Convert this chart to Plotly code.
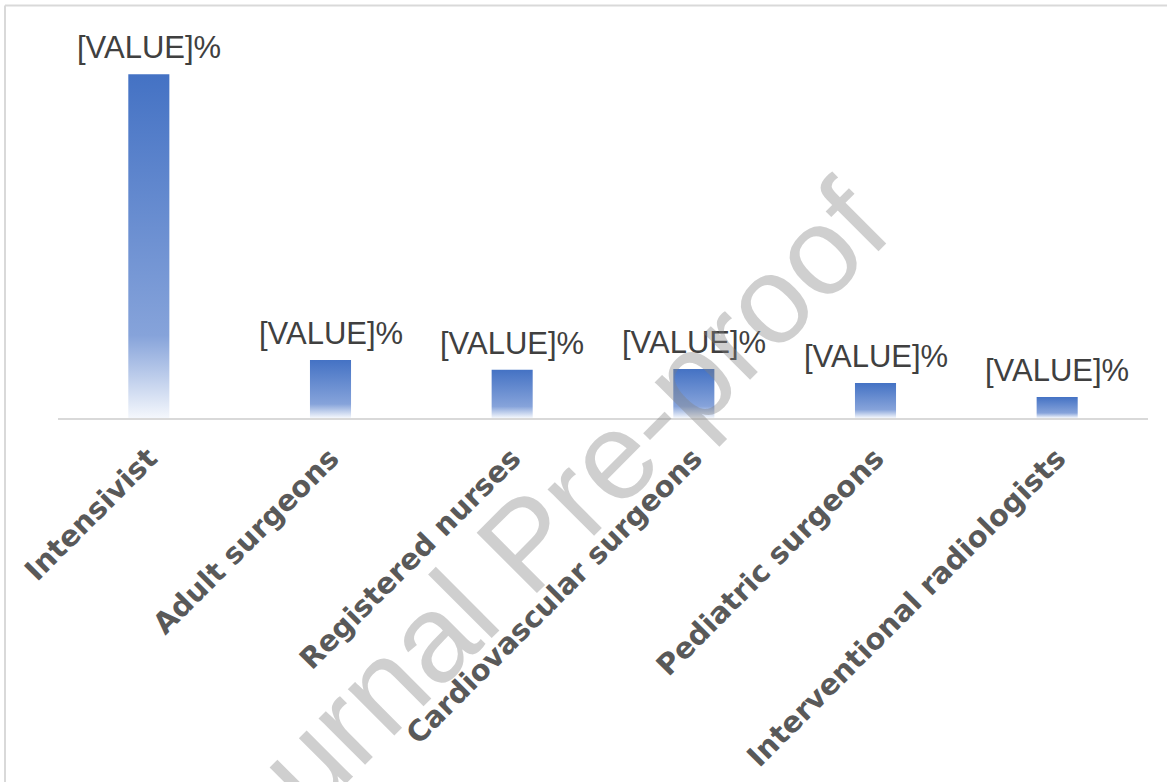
import plotly.graph_objects as go

# ---- data ----
categories = ["Intensivist", "Adult surgeons", "Registered nurses",
              "Cardiovascular surgeons", "Pediatric surgeons",
              "Interventional radiologists"]
values = [49.1, 8.3, 6.9, 7.0, 5.0, 3.0]
value_labels = ["[VALUE]%"] * len(categories)
watermark_text = "Journal Pre-proof"

# ---- styling ----
W, H = 1167, 782
ML, MR, MT, MB = 58, 19, 5, 364
PW, PH = W - ML - MR, H - MT - MB
half_w = 0.113
grad = [[0.0, "#f4f7fc"], [0.24, "#86a3da"], [1.0, "#4472c4"]]

fig = go.Figure()
for i, v in enumerate(values):
    fig.add_trace(go.Scatter(
        x=[i - half_w, i + half_w, i + half_w, i - half_w, i - half_w],
        y=[0, 0, v, v, 0],
        mode="lines", line=dict(width=0, color="rgba(0,0,0,0)"),
        fill="toself",
        fillgradient=dict(type="vertical", colorscale=grad, start=0, stop=v),
        hoverinfo="skip", showlegend=False,
    ))

for i, (v, lab) in enumerate(zip(values, value_labels)):
    fig.add_annotation(
        x=i, y=v, xref="x", yref="y", text=lab, showarrow=False,
        xanchor="center", yanchor="bottom", yshift=7,
        font=dict(family="Liberation Sans", size=31, color="#404040"),
    )

def px_x(p):
    return (p - ML) / PW

def px_y(p):
    return (H - MB - p) / PH

# chart-area border (top and left)
border = dict(color="#d9d9d9", width=2)
fig.add_shape(type="line", xref="paper", yref="paper",
              x0=px_x(5), x1=px_x(W), y0=px_y(5.5), y1=px_y(5.5), line=border)
fig.add_shape(type="line", xref="paper", yref="paper",
              x0=px_x(5), x1=px_x(5), y0=px_y(5.5), y1=px_y(H), line=border)

fig.add_annotation(
    text=watermark_text, xref="paper", yref="paper",
    x=px_x(526), y=px_y(543), xanchor="center", yanchor="middle",
    textangle=-45, showarrow=False,
    font=dict(family="Liberation Sans", size=124, color="rgba(128,128,128,0.38)"),
)

fig.update_layout(
    width=W, height=H, autosize=False,
    margin=dict(l=ML, r=MR, t=MT, b=MB),
    paper_bgcolor="white", plot_bgcolor="white",
    showlegend=False,
    xaxis=dict(
        range=[-0.5, len(categories) - 0.5],
        tickvals=list(range(len(categories))), ticktext=categories,
        tickangle=-45, ticks="", showgrid=False, zeroline=False,
        showline=True, linecolor="#d9d9d9", linewidth=1.5,
        ticklabelstandoff=10,
        tickfont=dict(family="DejaVu Sans", size=29, color="#595959", weight="bold"),
        fixedrange=True,
    ),
    yaxis=dict(range=[0, 59], visible=False, fixedrange=True),
)

fig.write_html("out.html", config={"displayModeBar": False},
               post_script="document.body.style.margin='0';")
